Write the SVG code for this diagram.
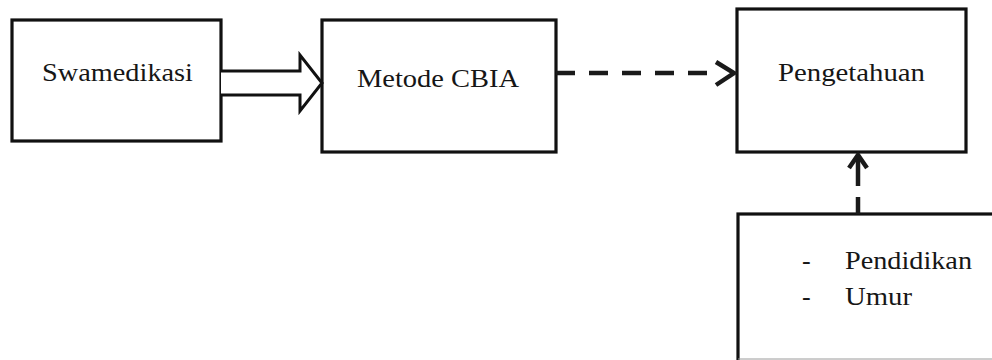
<svg xmlns="http://www.w3.org/2000/svg" width="992" height="360" viewBox="0 0 992 360">
  <style>
    .box { fill: #ffffff; stroke: #111111; stroke-width: 3.2; }
    .lbl { font-size: 26px; fill: #161616; }
    .hollow { fill: #ffffff; stroke: #111111; stroke-width: 3; stroke-linejoin: miter; }
    .dash { fill: none; stroke: #1a1a1a; stroke-width: 4.5; }
    .head { fill: none; stroke: #1a1a1a; stroke-width: 4.5; stroke-linecap: butt; stroke-linejoin: miter; }
  </style>
  <rect width="992" height="360" fill="#ffffff"/>

  <g font-family="'Liberation Serif', 'DejaVu Serif', 'Times New Roman', serif">
    <g id="swamedikasi">
      <rect class="box" x="12" y="20" width="209" height="121"/>
      <text class="lbl" x="42" y="81" textLength="151" lengthAdjust="spacingAndGlyphs">Swamedikasi</text>
    </g>

    <g id="metode-cbia">
      <rect class="box" x="322" y="20" width="234" height="132"/>
      <text class="lbl" x="357" y="87" textLength="162" lengthAdjust="spacingAndGlyphs">Metode CBIA</text>
    </g>

    <g id="pengetahuan">
      <rect class="box" x="737" y="9" width="229" height="143"/>
      <text class="lbl" x="778" y="81" textLength="147" lengthAdjust="spacingAndGlyphs">Pengetahuan</text>
    </g>

    <g id="faktor">
      <rect class="box" x="738" y="214" width="300" height="150"/>
      <line x1="738" y1="359" x2="992" y2="359" stroke="#9a9a9a" stroke-width="1"/>
      <text class="lbl" x="802" y="269">-</text>
      <text class="lbl" x="845" y="269" textLength="127" lengthAdjust="spacingAndGlyphs">Pendidikan</text>
      <text class="lbl" x="802" y="305">-</text>
      <text class="lbl" x="845" y="305" textLength="67" lengthAdjust="spacingAndGlyphs">Umur</text>
    </g>
  </g>

  <g id="connectors">
    <!-- hollow block arrow: Swamedikasi to Metode CBIA -->
    <path class="hollow" d="M221 71 H300 V55 L322 83 L300 111 V95 H221"/>
    <!-- dashed arrow: Metode CBIA to Pengetahuan -->
    <line class="dash" x1="556" y1="73" x2="710" y2="73" stroke-dasharray="19 14"/>
    <polyline class="head" points="716,62 734,73 716,85"/>
    <!-- dashed arrow: factors up to Pengetahuan -->
    <line class="dash" x1="858" y1="214" x2="858" y2="197"/>
    <line class="dash" x1="858" y1="186" x2="858" y2="156"/>
    <polyline class="head" points="849,168 858,155 867,168"/>
  </g>
</svg>
